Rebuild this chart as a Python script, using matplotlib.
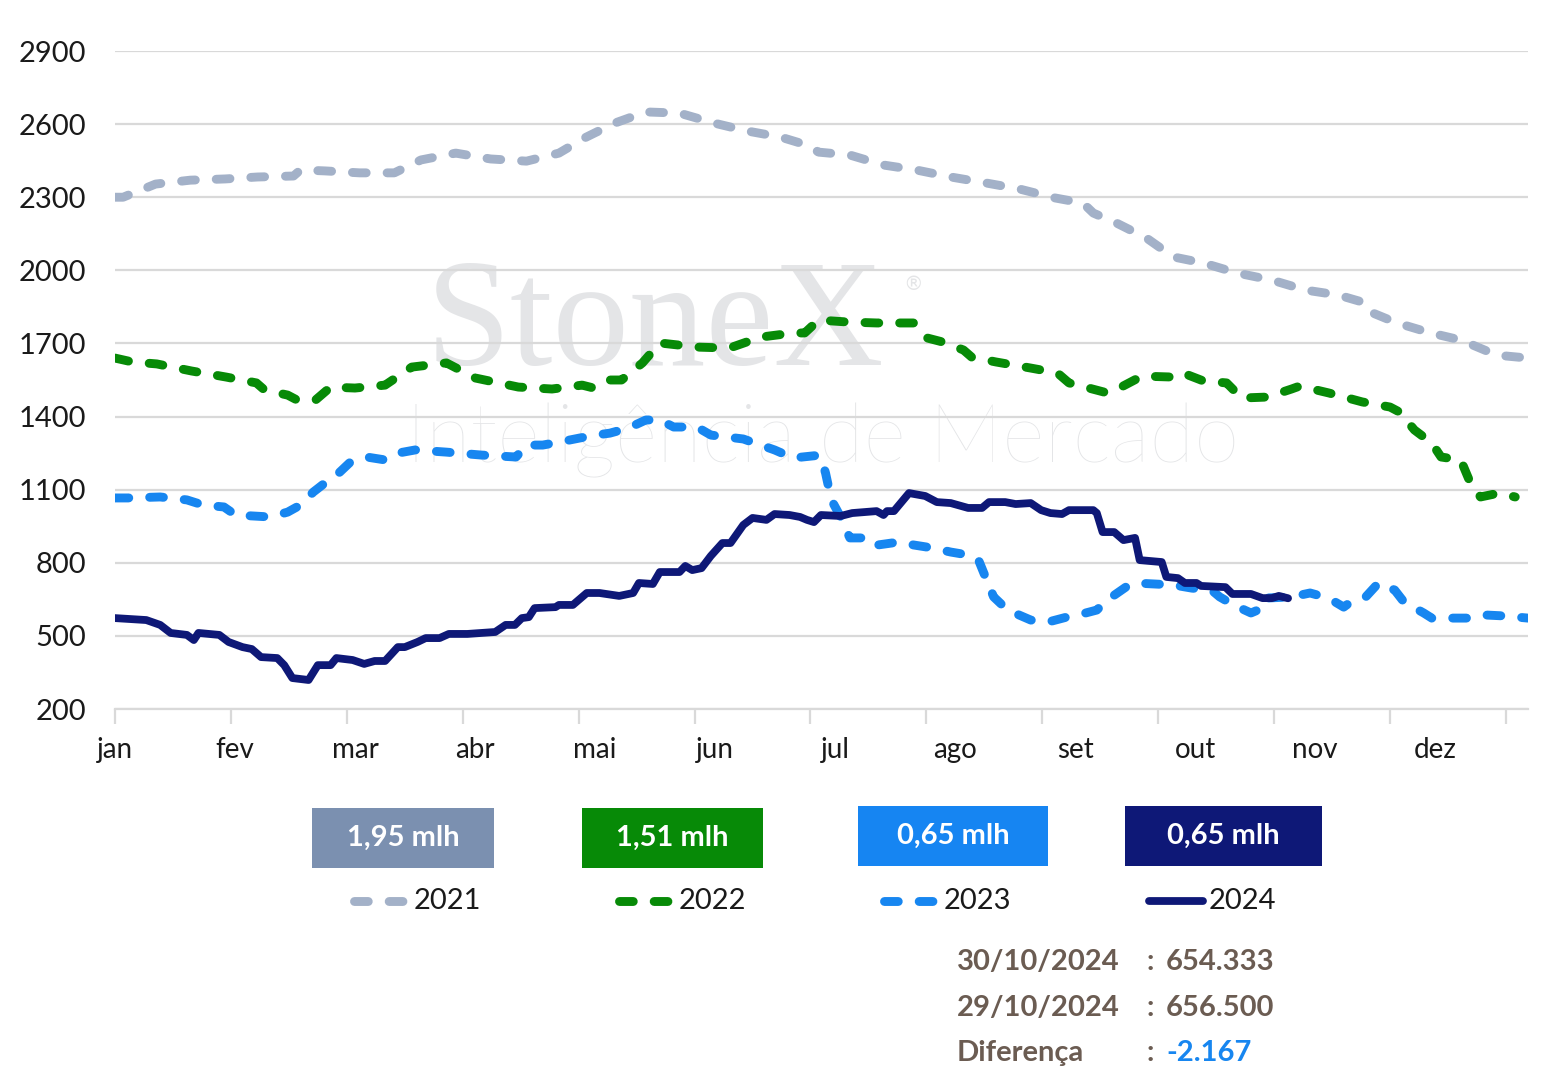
import matplotlib.pyplot as plt
from matplotlib.lines import Line2D
from matplotlib.patches import Rectangle

# x = months since 1 jan (axis in equal month steps)
months = ['jan', 'fev', 'mar', 'abr', 'mai', 'jun', 'jul', 'ago', 'set', 'out', 'nov', 'dez']

x2021 = [0.00, 0.07, 0.35, 0.65, 0.95, 1.23, 1.54, 1.60, 1.81, 2.11, 2.41, 2.64, 2.94, 3.24,
         3.55, 3.83, 4.05, 4.31, 4.58, 4.87, 5.17, 5.45, 5.74, 5.97, 6.07, 6.34, 6.63, 6.91,
         7.21, 7.52, 7.80, 8.11, 8.35, 8.44, 8.64, 8.90, 9.13, 9.39, 9.68, 9.98, 10.27, 10.55,
         10.79, 10.85, 11.06, 11.35, 11.61, 11.92, 12.19]
y2021 = [2300, 2300, 2354, 2370, 2375, 2383, 2387, 2412, 2408, 2400, 2400, 2453, 2481, 2457,
         2448, 2481, 2543, 2604, 2650, 2645, 2604, 2572, 2547, 2514, 2485, 2473, 2432, 2412,
         2383, 2358, 2334, 2297, 2276, 2235, 2194, 2132, 2055, 2030, 1989, 1960, 1919, 1899,
         1866, 1825, 1784, 1743, 1714, 1652, 1640]

x2022 = [0.00, 0.15, 0.36, 0.66, 0.96, 1.22, 1.29, 1.49, 1.57, 1.73, 1.86, 2.07, 2.33, 2.56,
         2.86, 3.11, 3.48, 3.77, 4.03, 4.13, 4.27, 4.37, 4.55, 4.70, 5.02, 5.30, 5.57, 5.85,
         5.95, 6.07, 6.32, 6.57, 6.89, 7.01, 7.14, 7.32, 7.39, 7.60, 7.90, 8.13, 8.23, 8.40,
         8.56, 8.68, 8.86, 9.13, 9.21, 9.39, 9.59, 9.72, 9.94, 10.15, 10.22, 10.47, 10.76,
         11.00, 11.08, 11.21, 11.36, 11.44, 11.61, 11.69, 11.78, 11.94, 12.08]
y2022 = [1640, 1624, 1616, 1587, 1562, 1538, 1509, 1488, 1468, 1468, 1521, 1517, 1529, 1603,
         1620, 1558, 1521, 1513, 1529, 1517, 1550, 1550, 1620, 1702, 1685, 1681, 1726, 1743,
         1743, 1796, 1788, 1784, 1784, 1722, 1706, 1673, 1644, 1624, 1599, 1579, 1538, 1517,
         1497, 1521, 1566, 1562, 1579, 1546, 1538, 1476, 1480, 1513, 1525, 1497, 1460,
         1439, 1419, 1345, 1291, 1234, 1222, 1131, 1070, 1086, 1070]

x2023 = [0.00, 0.11, 0.39, 0.62, 0.76, 0.94, 1.04, 1.34, 1.49, 1.60, 1.71, 1.81, 1.93, 2.03,
         2.17, 2.33, 2.44, 2.59, 2.86, 3.16, 3.46, 3.55, 3.69, 3.83, 4.01, 4.15, 4.27, 4.43,
         4.58, 4.70, 4.82, 5.02, 5.14, 5.42, 5.69, 5.85, 6.05, 6.09, 6.13, 6.18, 6.26, 6.32,
         6.34, 6.52, 6.58, 6.76, 6.89, 7.05, 7.21, 7.36, 7.45, 7.52, 7.58, 7.70, 7.90, 8.05,
         8.21, 8.31, 8.47, 8.56, 8.72, 8.80, 9.13, 9.29, 9.46, 9.53, 9.65, 9.80, 9.90, 9.92,
         10.15, 10.31, 10.47, 10.60, 10.66, 10.79, 10.90, 11.04, 11.12, 11.29, 11.36, 11.67,
         11.81, 11.98, 12.19]
y2023 = [1066, 1066, 1070, 1058, 1037, 1029, 996, 988, 1008, 1037, 1090, 1127, 1168, 1213,
         1234, 1222, 1250, 1263, 1254, 1242, 1234, 1283, 1283, 1295, 1312, 1324, 1332, 1353,
         1386, 1386, 1357, 1357, 1324, 1308, 1263, 1230, 1240, 1234, 1168, 1058, 988, 922,
         902, 902, 873, 885, 873, 861, 844, 832, 811, 729, 660, 606, 565, 557,
         577, 586, 606, 647, 700, 717, 709, 696, 688, 660, 627, 594, 614, 655,
         660, 676, 655, 618, 639, 660, 717, 688, 639, 594, 573, 573,
         586, 582, 573]

x2024 = [0.00, 0.27, 0.39, 0.48, 0.62, 0.68, 0.72, 0.90, 0.98, 1.10, 1.18, 1.26, 1.40, 1.46,
         1.53, 1.67, 1.75, 1.86, 1.91, 2.05, 2.15, 2.24, 2.33, 2.44, 2.50, 2.61, 2.68, 2.80,
         2.88, 3.04, 3.28, 3.37, 3.45, 3.51, 3.57, 3.62, 3.80, 3.83, 3.95, 4.07, 4.18, 4.35,
         4.47, 4.52, 4.64, 4.70, 4.87, 4.92, 4.98, 5.06, 5.14, 5.24, 5.31, 5.42, 5.50, 5.62,
         5.69, 5.82, 5.91, 5.97, 6.03, 6.09, 6.26, 6.36, 6.57, 6.63, 6.66, 6.72, 6.85, 6.99,
         7.09, 7.21, 7.36, 7.48, 7.54, 7.68, 7.77, 7.90, 7.99, 8.07, 8.17, 8.23, 8.44, 8.47,
         8.52, 8.62, 8.70, 8.80, 8.84, 9.03, 9.07, 9.17, 9.23, 9.33, 9.37, 9.58, 9.64, 9.80,
         9.90, 9.98, 10.04, 10.12]
y2024 = [573, 565, 545, 512, 504, 483, 512, 504, 475, 454, 446, 413, 409, 380,
         327, 319, 380, 380, 409, 401, 385, 397, 397, 454, 454, 475, 491, 491,
         508, 508, 516, 545, 545, 573, 577, 614, 618, 627, 627, 676, 676, 664,
         676, 717, 713, 762, 762, 787, 770, 778, 828, 881, 881, 955, 984, 976,
         1000, 996, 988, 976, 967, 996, 992, 1004, 1012, 996, 1012, 1012, 1086, 1074,
         1049, 1045, 1025, 1025, 1049, 1049, 1041, 1045, 1016, 1004, 1000, 1016, 1016, 1004,
         926, 926, 893, 902, 811, 803, 742, 737, 717, 717, 705, 700, 672, 672,
         655, 655, 664, 654.333]

years = ['2021', '2022', '2023', '2024']
colors = ['#A3B1C8', '#078A07', '#1786F0', '#0E1877']
box_colors = ['#7B90B0', '#078A07', '#1685F2', '#0E1877']
box_labels = ['1,95 mlh', '1,51 mlh', '0,65 mlh', '0,65 mlh']

last_date, last_val = '30/10/2024', 654.333
prev_date, prev_val = '29/10/2024', 656.500

W, H = 1563, 1078
fig = plt.figure(figsize=(W / 100, H / 100), dpi=100)
ax = fig.add_axes([115 / W, 1 - 709 / H, 1413 / W, 658 / H])

grid_c = '#D9D9D9'
ax.set_xlim(0, 12.19)
ax.set_ylim(200, 2900)
ax.set_yticks(range(200, 3000, 300))
ax.grid(axis='y', color=grid_c, lw=1.6, zorder=0)
ax.set_xticks(range(13))
ax.set_xticklabels([])
ax.tick_params(axis='x', length=11, width=1.6, color=grid_c, direction='out')
ax.tick_params(axis='y', length=0, pad=21, labelsize=21, labelcolor='#1A1A1A')
for s in ['top', 'right', 'left']:
    ax.spines[s].set_visible(False)
ax.spines['bottom'].set_color(grid_c)
ax.spines['bottom'].set_linewidth(1.6)
for lab in ax.get_yticklabels():
    lab.set_fontfamily('Lato')

for k, m in enumerate(months):
    ax.text(k * 1.0354, -0.062, m, transform=ax.get_xaxis_transform(),
            ha='center', va='center', fontsize=20, family='Lato', color='#1A1A1A')

# watermark
wm = '#E4E5E7'
ax.text(0.382, 0.523, 'StoneX', transform=ax.transAxes, ha='center', va='baseline',
        fontsize=110, family='Liberation Serif', color=wm, zorder=0.5)
ax.text(0.565, 0.645, '®', transform=ax.transAxes, ha='center', va='center',
        fontsize=14, color=wm, zorder=0.5)
ax.text(0.501, 0.375, 'Inteligência de Mercado', transform=ax.transAxes, ha='center',
        va='baseline', fontsize=59, family='Lato', fontweight='light', color=wm, zorder=0.5)

series = [(x2021, y2021), (x2022, y2022), (x2023, y2023), (x2024, y2024)]
for i, (xs, ys) in enumerate(series):
    if i < 3:
        ln, = ax.plot(xs, ys, color=colors[i], lw=6.4, solid_capstyle='round',
                      dash_capstyle='round', zorder=3)
        ln.set_dashes((1.55, 2.35))
    else:
        ax.plot(xs, ys, color=colors[i], lw=5.6, solid_capstyle='round',
                solid_joinstyle='round', zorder=4)

# value boxes
boxes = [(312, 494, 808, 868), (582, 763, 808, 868), (858, 1048, 806, 866), (1125, 1322, 806, 866)]
for (x0, x1, y0, y1), c, t in zip(boxes, box_colors, box_labels):
    fig.add_artist(Rectangle((x0 / W, 1 - y1 / H), (x1 - x0) / W, (y1 - y0) / H,
                             transform=fig.transFigure, color=c, lw=0))
    fig.text((x0 + x1) / 2 / W, 1 - (y0 + y1) / 2 / H, t, ha='center', va='center',
             color='white', fontsize=21, family='Lato', fontweight='bold')

# legend row
leg_x = [350, 615, 880, 1145]
for i, sx in enumerate(leg_x):
    ly = 1 - 901 / H
    ln = Line2D([(sx + 4) / W, (sx + 58) / W], [ly, ly], transform=fig.transFigure,
                color=colors[i], lw=6.4 if i < 3 else 5.6,
                solid_capstyle='round', dash_capstyle='round')
    if i < 3:
        ln.set_dashes((1.55, 2.35))
    fig.add_artist(ln)
    fig.text((sx + 64) / W, ly, years[i], ha='left', va='center', fontsize=21,
             family='Lato', color='#1A1A1A')

# daily stats
txt_c = '#6B5C52'
diff = last_val - prev_val
rows = [(last_date, f'{last_val:.3f}', txt_c),
        (prev_date, f'{prev_val:.3f}', txt_c),
        ('Diferença', f'{diff:.3f}', '#1786F0')]
for r, (lab, val, vc) in enumerate(rows):
    yy = 1 - (962 + r * 45.5) / H
    fig.text(957 / W, yy, lab, ha='left', va='center', fontsize=21, family='Lato',
             fontweight='bold', color=txt_c)
    fig.text(1146 / W, yy, ':', ha='left', va='center', fontsize=21, family='Lato',
             fontweight='bold', color=txt_c)
    fig.text(1166 / W, yy, val, ha='left', va='center', fontsize=21, family='Lato',
             fontweight='bold', color=vc)

fig.savefig('out.png', dpi=100, facecolor='white')
